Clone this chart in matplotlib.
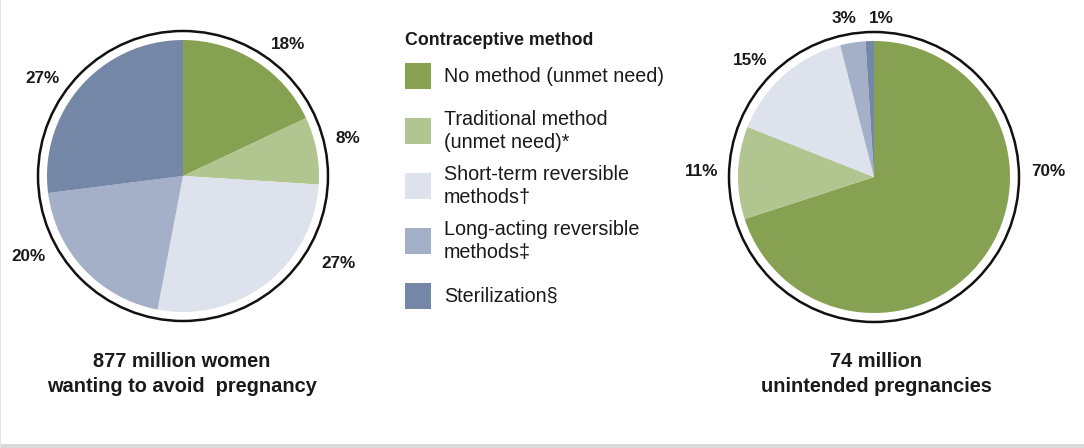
import matplotlib
matplotlib.use("Agg")
import matplotlib.pyplot as plt
from matplotlib.patches import Circle, Rectangle

# ---- data ----
categories = [
    "No method (unmet need)",
    "Traditional method\n(unmet need)*",
    "Short-term reversible\nmethods\u2020",
    "Long-acting reversible\nmethods\u2021",
    "Sterilization\u00a7",
]
women_share = [18, 8, 27, 20, 27]          # % of 877 million women
pregnancy_share = [70, 11, 15, 3, 1]       # % of 74 million unintended pregnancies
left_caption = "877 million women\nwanting to avoid  pregnancy"
right_caption = "74 million\nunintended pregnancies"
legend_title = "Contraceptive method"

# ---- style / layout ----
colors = ["#86a151", "#b0c58f", "#dde2ec", "#a3b0c8", "#7587a6"]
W, H = 1084, 448
TXT = "#1a1a1a"
FONT = ["Liberation Sans", "DejaVu Sans"]

left_center = (183, 176)
right_center = (874, 177)
pie_r = 136
ring_r = 145

left_label_pos = [(288, 44), (348, 138), (338, 263), (29, 256), (42, 78)]
right_label_pos = [(1048, 171), (702, 171), (750, 60), (844, 18), (881, 18)]

fig = plt.figure(figsize=(W / 100, H / 100), dpi=100)
ax = fig.add_axes([0, 0, 1, 1])


def Y(y):
    return H - y


def draw_pie(values, center, label_pos):
    cx, cy = center
    ax.pie(values, colors=colors, startangle=90, counterclock=False,
           center=(cx, Y(cy)), radius=pie_r,
           wedgeprops=dict(edgecolor="none", linewidth=0))
    ax.add_patch(Circle((cx, Y(cy)), ring_r, fill=False, edgecolor="#111111",
                        linewidth=1.8, zorder=5))
    for v, (lx, ly) in zip(values, label_pos):
        ax.text(lx, Y(ly), f"{v}%", ha="center", va="center", fontsize=12.3,
                fontweight="bold", color=TXT, family=FONT)


draw_pie(women_share, left_center, left_label_pos)
draw_pie(pregnancy_share, right_center, right_label_pos)

# captions
ax.text(left_center[0] - 1, Y(374), left_caption, ha="center", va="center",
        fontsize=14.4, fontweight="bold", color=TXT, family=FONT, linespacing=1.4)
ax.text(right_center[0] + 2, Y(374), right_caption, ha="center", va="center",
        fontsize=14.4, fontweight="bold", color=TXT, family=FONT, linespacing=1.4)

# legend
ax.text(405, Y(40), legend_title, ha="left", va="center", fontsize=12.8,
        fontweight="bold", color=TXT, family=FONT)
box = 26
for i, (cat, col) in enumerate(zip(categories, colors)):
    yc = 76 + i * 55
    ax.add_patch(Rectangle((405, Y(yc + box / 2)), box, box, facecolor=col,
                           edgecolor="none"))
    ax.text(444, Y(yc), cat, ha="left", va="center", fontsize=14.2,
            color=TXT, family=FONT, linespacing=1.3)

# frame decorations
ax.add_patch(Rectangle((0, 0), W, 4, facecolor="#d9d9d9", edgecolor="none"))
ax.add_patch(Rectangle((0, 0), 1.2, H, facecolor="#e3e3e3", edgecolor="none"))

ax.set_xlim(0, W)
ax.set_ylim(0, H)
ax.set_aspect("auto")
ax.axis("off")

fig.savefig("out.png", dpi=100, facecolor="white")
